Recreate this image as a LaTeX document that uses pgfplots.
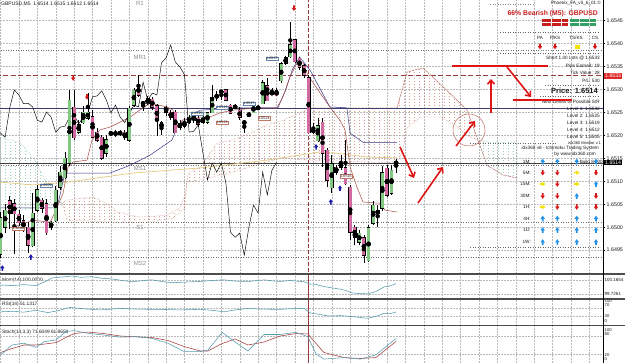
\documentclass[border=0pt]{standalone}
\usepackage{fontspec}
\setmainfont{Liberation Sans}
\usepackage{pgfplots}
\pgfplotsset{compat=1.18}
\usepackage{pgfplotstable}
\usetikzlibrary{patterns.meta,arrows.meta}
\newcommand\ft[1]{\fontsize{#1}{#1}\selectfont}
\definecolor{bull}{RGB}{130,200,130}
\definecolor{bear}{RGB}{210,105,160}
\definecolor{gridc}{RGB}{185,185,185}
\definecolor{tenkan}{RGB}{165,75,65}
\definecolor{kijun}{RGB}{55,55,135}
\definecolor{cloudbr}{RGB}{190,105,95}
\definecolor{cloudgr}{RGB}{100,180,160}
\definecolor{maline}{RGB}{228,200,125}
\definecolor{indteal}{RGB}{85,155,175}
\definecolor{stochd}{RGB}{165,60,60}
\definecolor{handred}{RGB}{225,20,20}
\definecolor{sigblue}{RGB}{35,145,230}
\definecolor{sigred}{RGB}{215,25,25}
\definecolor{sigyel}{RGB}{245,225,0}
\definecolor{chartblue}{RGB}{25,25,170}
\definecolor{pivotc}{RGB}{110,110,110}
\definecolor{pivtxt}{RGB}{140,140,140}
\definecolor{daysep}{RGB}{150,60,60}
\definecolor{boxblue}{RGB}{100,130,170}
\definecolor{boxbrown}{RGB}{195,120,100}
\definecolor{txtc}{RGB}{25,25,25}
\definecolor{sqred}{RGB}{200,30,30}
\definecolor{sqgreen}{RGB}{50,160,100}
\definecolor{navyline}{RGB}{60,60,110}
\definecolor{boxred}{RGB}{225,40,40}
\pgfdeclareplotmark{dnarr}{%
  \pgfpathmoveto{\pgfqpoint{-0.8pt}{2.8pt}}\pgfpathlineto{\pgfqpoint{0.8pt}{2.8pt}}%
  \pgfpathlineto{\pgfqpoint{0.8pt}{0.3pt}}\pgfpathlineto{\pgfqpoint{2.2pt}{0.3pt}}%
  \pgfpathlineto{\pgfqpoint{0pt}{-2.8pt}}\pgfpathlineto{\pgfqpoint{-2.2pt}{0.3pt}}%
  \pgfpathlineto{\pgfqpoint{-0.8pt}{0.3pt}}\pgfpathclose\pgfusepathqfill}
\pgfdeclareplotmark{uparr}{%
  \pgfpathmoveto{\pgfqpoint{-0.8pt}{-2.8pt}}\pgfpathlineto{\pgfqpoint{0.8pt}{-2.8pt}}%
  \pgfpathlineto{\pgfqpoint{0.8pt}{-0.3pt}}\pgfpathlineto{\pgfqpoint{2.2pt}{-0.3pt}}%
  \pgfpathlineto{\pgfqpoint{0pt}{2.8pt}}\pgfpathlineto{\pgfqpoint{-2.2pt}{-0.3pt}}%
  \pgfpathlineto{\pgfqpoint{-0.8pt}{-0.3pt}}\pgfpathclose\pgfusepathqfill}
\pgfdeclareplotmark{rtarr}{%
  \pgfpathmoveto{\pgfqpoint{-2.8pt}{-0.8pt}}\pgfpathlineto{\pgfqpoint{-2.8pt}{0.8pt}}%
  \pgfpathlineto{\pgfqpoint{-0.3pt}{0.8pt}}\pgfpathlineto{\pgfqpoint{-0.3pt}{2.2pt}}%
  \pgfpathlineto{\pgfqpoint{2.8pt}{0pt}}\pgfpathlineto{\pgfqpoint{-0.3pt}{-2.2pt}}%
  \pgfpathlineto{\pgfqpoint{-0.3pt}{-0.8pt}}\pgfpathclose\pgfusepathqfill}
\tikzdeclarepattern{
  name=mtdots,
  type=uncolored,
  bottom left={(0pt,0pt)},
  top right={(4.6pt,2.6pt)},
  tile size={(4.6pt,2.6pt)},
  code={\pgfpathrectangle{\pgfqpoint{0pt}{0pt}}{\pgfqpoint{0.75pt}{0.9pt}}\pgfusepath{fill}}
}
\tikzset{pbox/.style={draw=#1, fill=white, inner sep=0.5pt, font=\ft{3.6}, text=txtc, line width=0.3pt},
  rtxt/.style={anchor=east, font=\ft{4.7}, text=txtc, inner sep=0pt},
  hand/.style={handred, line width=1.6pt},
  harr/.style={handred, line width=1.6pt, -{Straight Barb[length=4pt,width=7pt]}}}

\pgfplotstableread{
i o h l c
0 1.64943 1.65033 1.64933 1.65022
1 1.65000 1.65052 1.64989 1.65037
2 1.65059 1.65070 1.64998 1.65031
3 1.65052 1.65063 1.64943 1.65031
4 1.65029 1.65037 1.65002 1.65011
5 1.65015 1.65026 1.64989 1.64998
6 1.65000 1.65011 1.64943 1.64961
7 1.64961 1.65074 1.64957 1.65031
8 1.65037 1.65092 1.65033 1.65081
9 1.65059 1.65066 1.65033 1.65042
10 1.65052 1.65063 1.64983 1.64989
11 1.65000 1.65015 1.64994 1.65011
12 1.65015 1.65090 1.65011 1.65081
13 1.65087 1.65135 1.65083 1.65120
14 1.65109 1.65164 1.65105 1.65151
15 1.65140 1.65299 1.65135 1.65277
16 1.65262 1.65299 1.65190 1.65196
17 1.65207 1.65233 1.65203 1.65223
18 1.65229 1.65264 1.65225 1.65251
19 1.65238 1.65292 1.65233 1.65251
20 1.65240 1.65255 1.65194 1.65196
21 1.65207 1.65216 1.65185 1.65190
22 1.65196 1.65201 1.65146 1.65151
23 1.65162 1.65201 1.65153 1.65192
24 1.65205 1.65212 1.65201 1.65203
25 1.65205 1.65212 1.65196 1.65204
26 1.65207 1.65212 1.65199 1.65205
27 1.65207 1.65212 1.65192 1.65196
28 1.65190 1.65264 1.65185 1.65260
29 1.65266 1.65305 1.65264 1.65299
30 1.65310 1.65332 1.65284 1.65288
31 1.65270 1.65277 1.65255 1.65269
32 1.65281 1.65286 1.65266 1.65270
33 1.65279 1.65284 1.65255 1.65262
34 1.65266 1.65270 1.65201 1.65233
35 1.65218 1.65233 1.65201 1.65229
36 1.65262 1.65266 1.65244 1.65251
37 1.65251 1.65255 1.65233 1.65240
38 1.65251 1.65255 1.65205 1.65207
39 1.65227 1.65233 1.65212 1.65218
40 1.65229 1.65238 1.65216 1.65220
41 1.65229 1.65244 1.65225 1.65240
42 1.65233 1.65251 1.65229 1.65244
43 1.65238 1.65244 1.65220 1.65225
44 1.65229 1.65244 1.65225 1.65240
45 1.65229 1.65251 1.65225 1.65249
46 1.65251 1.65310 1.65249 1.65284
47 1.65284 1.65297 1.65277 1.65286
48 1.65294 1.65299 1.65277 1.65297
49 1.65299 1.65301 1.65275 1.65277
50 1.65266 1.65270 1.65247 1.65249
51 1.65260 1.65268 1.65257 1.65266
52 1.65255 1.65262 1.65233 1.65240
53 1.65229 1.65233 1.65207 1.65228
54 1.65244 1.65251 1.65240 1.65247
55 1.65251 1.65270 1.65249 1.65266
56 1.65260 1.65266 1.65255 1.65262
57 1.65270 1.65321 1.65268 1.65316
58 1.65310 1.65325 1.65275 1.65277
59 1.65294 1.65303 1.65288 1.65292
60 1.65299 1.65303 1.65286 1.65288
61 1.65321 1.65360 1.65316 1.65358
62 1.65358 1.65373 1.65355 1.65369
63 1.65371 1.65447 1.65369 1.65397
64 1.65408 1.65412 1.65358 1.65360
65 1.65369 1.65371 1.65342 1.65349
66 1.65353 1.65358 1.65327 1.65332
67 1.65327 1.65332 1.65205 1.65207
68 1.65212 1.65227 1.65205 1.65209
69 1.65190 1.65238 1.65185 1.65223
70 1.65229 1.65238 1.65131 1.65162
71 1.65168 1.65172 1.65087 1.65103
72 1.65087 1.65157 1.65074 1.65140
73 1.65131 1.65135 1.65114 1.65120
74 1.65131 1.65157 1.65124 1.65140
75 1.65131 1.65190 1.65092 1.65096
76 1.65087 1.65092 1.64972 1.64989
77 1.65000 1.65005 1.64961 1.64978
78 1.64967 1.64994 1.64961 1.64987
79 1.64978 1.64983 1.64922 1.64939
80 1.64928 1.65005 1.64924 1.65000
81 1.65009 1.65059 1.65005 1.65048
82 1.65037 1.65048 1.65000 1.65031
83 1.65042 1.65135 1.65037 1.65120
84 1.65129 1.65135 1.65066 1.65070
85 1.65074 1.65135 1.65070 1.65124
86 1.65140 1.65150 1.65120 1.65141
}\candles

\begin{document}
\begin{tikzpicture}
\useasboundingbox (0,0) rectangle (625pt,363pt);
\fill[white] (0,0) rectangle (625pt,363pt);
% ================= MAIN PRICE PANEL =================
\begin{axis}[
  at={(0pt,89pt)}, anchor=south west,
  width=603pt, height=274pt, scale only axis,
  xmin=-0.11, xmax=130.98, ymin=1.64898, ymax=1.65495,
  axis line style={draw=none},
  xtick={0,4,...,128}, xticklabels={}, xtick style={draw=none},
  ytick={1.6495,1.6500,1.6505,1.6510,1.6515,1.6520,1.6525,1.6530,1.6535,1.6540,1.6545},
  ytick pos=right, yticklabel pos=right, tick align=outside, major tick length=2pt,
  ytick style={black, line width=0.4pt},
  yticklabel style={font=\ft{5.3}, text=txtc, inner xsep=1.5pt,
    /pgf/number format/fixed, /pgf/number format/fixed zerofill,
    /pgf/number format/precision=4, /pgf/number format/assume math mode=true},
  scaled y ticks=false,
  grid=major, major grid style={gridc, dash pattern=on 1.5pt off 1.5pt, line width=0.35pt},
]
% Ichimoku cloud
\addplot[draw=cloudgr, densely dotted, line width=0.4pt, pattern={mtdots}, pattern color=cloudgr]
 coordinates {(-0.3,1.65196) (4.2,1.65185) (7.5,1.65146) (9.7,1.65103) (11.8,1.65070) (13.4,1.65052)
   (8.6,1.65044) (4.2,1.65037) (-0.3,1.65031)} -- cycle;
\addplot[draw=cloudbr, densely dotted, line width=0.4pt, pattern={mtdots}, pattern color=cloudbr]
 coordinates {(13.4,1.65052) (14.5,1.65059) (20.1,1.65066) (23.8,1.65048) (25.3,1.65033) (30.3,1.65022)
   (36.2,1.65026) (39.0,1.65042) (40.1,1.65068) (40.8,1.65118) (43.4,1.65131) (47.1,1.65183)
   (50.5,1.65190) (54.2,1.65205) (57.9,1.65223) (61.4,1.65233) (65.1,1.65249) (67.3,1.65260)
   (86.2,1.65260) (88.4,1.65338) (91.8,1.65347) (94.0,1.65327) (99.2,1.65277) (101.4,1.65255)
   (103.8,1.65190) (101.6,1.65199) (98.8,1.65223) (95.5,1.65240) (91.2,1.65240) (88.4,1.65216)
   (87.5,1.65168) (86.2,1.65140) (65.1,1.65147) (61.4,1.65151) (57.9,1.65142) (50.5,1.65120)
   (43.4,1.65103) (40.5,1.65098) (40.1,1.65042) (37.5,1.65020) (32.5,1.65011) (25.3,1.65011)
   (14.5,1.65015)} -- cycle;
\addplot[draw=cloudgr, densely dotted, line width=0.4pt, pattern={mtdots}, pattern color=cloudgr]
 coordinates {(103.8,1.65190) (106.4,1.65185) (112.3,1.65185) (112.3,1.65107) (109.2,1.65114)
   (105.8,1.65135)} -- cycle;
\addplot[cloudbr, dash pattern=on 2pt off 1pt, line width=0.45pt]
 coordinates {(86.2,1.65260) (88.4,1.65338) (91.8,1.65347) (94.0,1.65327) (99.2,1.65277)
   (101.4,1.65255) (103.8,1.65190) (105.8,1.65135) (109.2,1.65114) (112.3,1.65107)};
% pivot levels (dotted)
\addplot[pivotc, dotted, line width=0.5pt] coordinates {(-1,1.65385) (132,1.65385)};
\addplot[pivotc, dotted, line width=0.5pt] coordinates {(-1,1.65135) (132,1.65135)};
\addplot[pivotc, dotted, line width=0.5pt] coordinates {(-1,1.65011) (132,1.65011)};
\addplot[pivotc, dotted, line width=0.5pt] coordinates {(-1,1.64935) (132,1.64935)};
% trade / price lines
\addplot[daysep, dash pattern=on 5pt off 2.5pt, line width=0.6pt] coordinates {(-1,1.6533) (132,1.6533)};
\addplot[navyline, line width=0.5pt] coordinates {(-1,1.6526) (132,1.6526)};
\addplot[black!75, line width=0.45pt] coordinates {(-1,1.6514) (132,1.6514)};
\addplot[daysep, dash pattern=on 4pt off 2pt, line width=0.6pt] coordinates {(67,1.6485) (67,1.6555)};
% moving average, Kijun, Tenkan, Chikou
\addplot[maline, line width=0.7pt] coordinates {(0,1.65098) (7.1,1.65092) (14.5,1.65098) (28.8,1.65118)
   (43.4,1.65129) (57.9,1.65146) (69.5,1.65164) (72.3,1.65162) (79.7,1.65153) (86.2,1.65151)};
\addplot[kijun, line width=0.5pt] coordinates {(0,1.65042) (12.3,1.65042) (14,1.65118) (23.8,1.65118)
   (28.2,1.65135) (32.5,1.65157) (37.3,1.65190) (38.6,1.65223) (41.2,1.65240) (43.4,1.65255)
   (52,1.65260) (60.3,1.65260) (62,1.65299) (63.4,1.65342) (65,1.65371) (67.3,1.65342)
   (71.6,1.65262) (75.3,1.65260) (76,1.65205) (78.8,1.65185) (86.2,1.65185)};
\addplot[tenkan, line width=0.5pt] coordinates {(2.1,1.64998) (4.2,1.65005) (7.1,1.65015) (10.8,1.65011)
   (11.8,1.65031) (13.6,1.65074) (14.7,1.65131) (15.8,1.65142) (18.8,1.65146) (19.9,1.65190)
   (21.6,1.65212) (23.8,1.65218) (28.2,1.65240) (29.7,1.65251) (32.5,1.65270) (36.2,1.65262)
   (37.5,1.65255) (38.4,1.65218) (39.5,1.65233) (41.8,1.65240) (45.5,1.65240) (47.7,1.65249)
   (50.5,1.65255) (55.8,1.65260) (60.1,1.65260) (61.4,1.65284) (62.9,1.65327) (64.5,1.65358)
   (65.8,1.65358) (66.8,1.65332) (69.5,1.65292) (71.6,1.65262) (73.8,1.65233) (74.9,1.65212)
   (76,1.65131) (77.5,1.65087) (78.8,1.65055) (82.5,1.65052) (83.6,1.65037) (86.2,1.65033)};
\addplot[black, line width=0.45pt] table[x expr=\thisrow{i}-26, y=c] {\candles};
% candles: wicks
\addplot[only marks, mark=none, error bars/.cd, y dir=both, y explicit, error mark=none,
   error bar style={black, line width=0.45pt}]
   table[x=i, y expr={(\thisrow{h}+\thisrow{l})/2}, y error expr={(\thisrow{h}-\thisrow{l})/2}] {\candles};
% candles: body outline
\addplot[only marks, mark=none, error bars/.cd, y dir=both, y explicit, error mark=none,
   error bar style={black, line width=3.9pt}]
   table[x=i, y expr={(\thisrow{o}+\thisrow{c})/2}, y error expr={abs(\thisrow{c}-\thisrow{o})/2+0.000012}] {\candles};
% candles: bullish fill
\addplot[only marks, mark=none, error bars/.cd, y dir=both, y explicit, error mark=none,
   error bar style={bull, line width=2.9pt}]
   table[x=i, y expr={(\thisrow{o}+\thisrow{c})/2}, y error expr={max(\thisrow{c}-\thisrow{o},0)/2}] {\candles};
% candles: bearish fill
\addplot[only marks, mark=none, error bars/.cd, y dir=both, y explicit, error mark=none,
   error bar style={bear, line width=2.9pt}]
   table[x=i, y expr={(\thisrow{o}+\thisrow{c})/2}, y error expr={max(\thisrow{o}-\thisrow{c},0)/2}] {\candles};
% signal arrows
\addplot[only marks, mark=dnarr, sigred] coordinates {(15.8,1.65325) (18.8,1.65284) (63.8,1.65477)};
\addplot[only marks, mark=uparr, chartblue] coordinates {(6.6,1.64935) (68.6,1.65175) (71.8,1.65055) (73.8,1.65085) (0.4,1.64911)};
\end{axis}

% ================= OVERLAY (pixel positions of texts) =================
\begin{axis}[
  at={(0pt,89pt)}, anchor=south west,
  width=603pt, height=274pt, scale only axis,
  xmin=0, xmax=603, ymin=0, ymax=274, y dir=reverse, hide axis, clip=false]
\node[anchor=west, font=\ft{5}, text=txtc, inner sep=0pt] at (1,4) {GBPUSD,M5\ \ 1.6514 1.6515 1.6512 1.6514};
\node[font=\ft{6}, text=pivtxt] at (140,3) {R1};
\node[font=\ft{6}, text=pivtxt] at (140,57.5) {MR1};
\node[font=\ft{6}, text=pivtxt] at (140,168.5) {MS1};
\node[font=\ft{6}, text=pivtxt] at (140,227) {S1};
\node[font=\ft{6}, text=pivtxt] at (140,263.5) {MS2};
% small price labels
\node[pbox=boxblue] at (272,58.5) {1.6537};
\node[pbox=boxblue] at (249,103.5) {1.6527};
\node[pbox=boxblue] at (222,107.5) {1.6526};
\node[pbox=boxblue] at (197,113.5) {1.6525};
\node[pbox=boxbrown] at (222,122.5) {1.6523};
\node[pbox=boxbrown] at (264,118) {1.6524};
\node[pbox=boxbrown] at (346,176) {1.6516};
\node[pbox=boxblue] at (46,185.5) {1.6509};
\node[pbox=boxbrown] at (18.5,228.5) {1.6500};
% info panel
\draw[gray, dotted, line width=0.5pt] (490,4) -- (534,4);
\node[rtxt, font=\ft{4.6}] at (601,3.5) {Phoenix\_FA\_v5\_6\_01 ©};
\node[rtxt, font=\bfseries\ft{6.8}, text=sqred] at (598,13.5) {66\% Bearish (M5): GBPUSD};
\addplot[only marks, mark=square*, mark size=1.05pt, sqred] coordinates {(543,20) (546.3,20) (549.6,20) (552.9,20) (556.2,20) (559.5,20) (562.8,20) (566.1,20)
  (543,24.3) (546.3,24.3) (549.6,24.3) (552.9,24.3) (556.2,24.3) (559.5,24.3) (562.8,24.3) (566.1,24.3)};
\addplot[only marks, mark=square*, mark size=1.05pt, sqgreen] coordinates {(571,20) (574.3,20) (577.6,20) (580.9,20) (584.2,20) (587.5,20) (590.8,20) (594.1,20)
  (571,24.3) (574.3,24.3) (577.6,24.3) (580.9,24.3) (584.2,24.3) (587.5,24.3) (590.8,24.3) (594.1,24.3)};
\draw[gray!80!black, dotted, line width=0.5pt] (500,32) -- (600,32);
\node[font=\ft{4.6}, text=txtc, inner sep=0pt] at (540,38) {PA};
\node[font=\ft{4.6}, text=txtc, inner sep=0pt] at (555,38) {P/KS};
\node[font=\ft{4.6}, text=txtc, inner sep=0pt] at (576,38) {TS/KS};
\node[font=\ft{4.6}, text=txtc, inner sep=0pt] at (595,38) {CS};
\addplot[only marks, mark=dnarr, sigred] coordinates {(540,46.5) (555,46.5) (595,46.5)};
\addplot[only marks, mark=square*, mark size=1.7pt, sigyel] coordinates {(577,46.5)};
\draw[gray!80!black, dotted, line width=0.5pt] (500,53) -- (600,53);
\node[rtxt] at (600,58.5) {Short 1.00 Lots @ 1.6533};
\node[rtxt] at (600,66) {Pips Earned: 19};
\node[rtxt] at (600,73) {Tick Value: 28};
\node[rtxt] at (600,80.5) {P/L: 530};
\draw[gray!80!black, dotted, line width=0.5pt] (545,85) -- (600,85);
\node[rtxt, font=\bfseries\ft{7.5}] at (598,90.5) {Price: 1.6514};
\draw[gray!80!black, dotted, line width=0.5pt] (540,96) -- (600,96);
\node[rtxt] at (600,101.5) {Next Levels of Possible S/R};
\node[rtxt] at (600,108.5) {Level 1: 1.6532};
\node[rtxt] at (600,115.5) {Level 2: 1.6525};
\node[rtxt] at (600,122.5) {Level 3: 1.6519};
\node[rtxt] at (600,130) {Level 4: 1.6512};
\node[rtxt] at (600,137) {Level 5: 1.6505};
\draw[gray!80!black, dotted, line width=0.5pt] (470,143) -- (556,143);
\node[rtxt, font=\ft{4}] at (601,143) {idx360 Monitor v.1};
\node[rtxt] at (599,148) {idx360 v8 - Ichimoku Trading System};
\node[rtxt] at (596,154) {by www.idx360.com};
% signal matrix
\addplot[only marks, mark=uparr, sigblue] coordinates {(542.7,161.5) (557.3,161.5) (576.7,161.5) (596,161.5)
  (596,184) (576.7,196)
  (542.7,218.5) (557.3,218.5) (576.7,218.5) (596,218.5)
  (542.7,230) (557.3,230) (576.7,230) (596,230)
  (542.7,242) (557.3,242) (576.7,242) (596,242)};
\addplot[only marks, mark=dnarr, sigred] coordinates {(542.7,172.7) (557.3,172.7) (596,172.7)
  (557.3,184) (542.7,196) (557.3,196) (596,196) (557.3,207) (576.7,207) (596,207)};
\addplot[only marks, mark=rtarr, sigyel] coordinates {(576.7,172.7) (542.7,184) (576.7,184) (542.7,207)};
\node[rtxt, font=\ft{4.6}] at (603,162) {Build 8.300};
\node[rtxt] at (531,162) {1M:};
\node[rtxt] at (531,172.7) {5M:};
\node[rtxt] at (531,184) {15M:};
\node[rtxt] at (531,196) {30M:};
\node[rtxt] at (531,207) {1H:};
\node[rtxt] at (531,218.5) {4H:};
\node[rtxt] at (531,230) {1D:};
\node[rtxt] at (531,242) {1W:};
\draw[gray!80!black, dotted, line width=0.5pt] (470,247) -- (600,247);
% hand drawn annotations
\draw[hand] (452,66) -- (548,66);
\draw[harr] (507,67) -- (531,97);
\draw[hand] (513,100) -- (572,100);
\draw[harr] (491,113) -- (491,79);
\draw[harr] (400,147) -- (414,178);
\draw[harr] (418,203) -- (443,167);
\draw[harr] (456,146) -- (475,121);
\draw[cloudbr, line width=0.5pt] (469,130) circle[radius=16pt];
% right scale boxes
\node[fill=boxred, text=white, font=\ft{5.2}, inner xsep=1pt, inner ysep=0.9pt, anchor=west] at (604,76) {1.6533};
\node[fill=black, text=white, font=\ft{5.2}, inner xsep=1pt, inner ysep=0.9pt, anchor=west] at (604,162.6) {1.6514};
% indicator labels
\node[anchor=west, font=\ft{4.8}, text=txtc, inner sep=0pt] at (2,280.5) {Mom(14) 100.0000};
\node[anchor=west, font=\ft{4.8}, text=txtc, inner sep=0pt] at (2,304.5) {RSI(14) 51.1317};
\node[anchor=west, font=\ft{4.8}, text=txtc, inner sep=0pt] at (2,332) {Stoch(14,3,3) 71.6049 61.8658};
\node[anchor=west, font=\ft{4.5}, text=txtc, inner sep=0pt] at (604.5,280) {100.1654};
\node[anchor=west, font=\ft{4.5}, text=txtc, inner sep=0pt] at (604.5,294) {99.7261};
\node[anchor=west, font=\ft{4.2}, text=txtc, inner sep=0pt] at (604.5,301.5) {100};
\node[anchor=west, font=\ft{4.2}, text=txtc, inner sep=0pt] at (604.5,305.5) {70};
\node[anchor=west, font=\ft{4.2}, text=txtc, inner sep=0pt] at (604.5,316.5) {30};
\node[anchor=west, font=\ft{4.2}, text=txtc, inner sep=0pt] at (604.5,321) {0};
\node[anchor=west, font=\ft{4.2}, text=txtc, inner sep=0pt] at (604.5,330) {100};
\node[anchor=west, font=\ft{4.2}, text=txtc, inner sep=0pt] at (604.5,334) {80};
\node[anchor=west, font=\ft{4.2}, text=txtc, inner sep=0pt] at (604.5,355.5) {20};
\node[anchor=west, font=\ft{4.2}, text=txtc, inner sep=0pt] at (604.5,359.5) {0};
\end{axis}

% ================= MOMENTUM =================
\begin{axis}[
  at={(0pt,64pt)}, anchor=south west, width=603pt, height=25pt, scale only axis,
  xmin=-0.11, xmax=130.98, ymin=99.569, ymax=100.354,
  axis line style={draw=none},
  xtick={0,4,...,128}, xticklabels={}, ytick={99.7261,100.1654}, yticklabels={},
  tick style={draw=none},
  grid=major, major grid style={gridc, dash pattern=on 1.5pt off 1.5pt, line width=0.35pt}]
\addplot[daysep, line width=0.5pt] coordinates {(67,99) (67,101)};
\addplot[indteal, line width=0.55pt] coordinates {(0,100.01) (2.5,99.99) (5,100.02) (7.7,99.99) (9.5,100.10)
  (11.2,100.23) (13.5,100.26) (15.5,100.29) (17.5,100.25) (19.9,100.27) (22,100.22) (24.2,100.20)
  (26.5,100.15) (28.6,100.11) (30.5,100.14) (32.9,100.17) (35,100.12) (37.3,100.08) (40,100.10)
  (43.4,100.12) (46,100.15) (48.6,100.17) (51,100.13) (53.8,100.12) (56,100.15) (57.3,100.17)
  (59,100.14) (60.8,100.12) (63,100.15) (66,100.11) (67.3,100.04) (68.5,100.03) (70.3,99.96)
  (72,99.92) (73.8,99.88) (75,99.84) (76.4,99.76) (78,99.74) (79.9,99.73) (81.6,99.80)
  (83.4,99.95) (84.5,99.97) (86,100.05)};
\end{axis}

% ================= RSI =================
\begin{axis}[
  at={(0pt,37.3pt)}, anchor=south west, width=603pt, height=26.7pt, scale only axis,
  xmin=-0.11, xmax=130.98, ymin=-21, ymax=119.5,
  axis line style={draw=none},
  xtick={0,4,...,128}, xticklabels={}, ytick={30,70}, yticklabels={},
  tick style={draw=none},
  grid=major, major grid style={gridc, dash pattern=on 1.5pt off 1.5pt, line width=0.35pt}]
\addplot[daysep, line width=0.5pt] coordinates {(67,-30) (67,130)};
\addplot[indteal, line width=0.55pt] coordinates {(0,52) (3,55) (5,50) (7.7,60) (10.3,48) (12.5,58)
  (15.1,75) (18,68) (21.6,62) (24,66) (26,70) (30,66) (34.7,65) (39,62) (43.4,65) (46,60)
  (48.6,52) (51,62) (53.8,70) (57,66) (60.8,65) (63,68) (66,70) (67.3,46) (69,40) (71.2,30)
  (74,32) (76.4,27) (79.9,18) (81.6,28) (83.4,44) (84.7,42) (86,51.1)};
\end{axis}

% ================= STOCHASTIC =================
\begin{axis}[
  at={(0pt,0pt)}, anchor=south west, width=603pt, height=37.3pt, scale only axis,
  xmin=-0.11, xmax=130.98, ymin=-10, ymax=114.3,
  axis line style={draw=none},
  xtick={0,4,...,128}, xticklabels={}, ytick={20,80}, yticklabels={},
  tick style={draw=none},
  grid=major, major grid style={gridc, dash pattern=on 1.5pt off 1.5pt, line width=0.35pt}]
\addplot[daysep, line width=0.5pt] coordinates {(67,-20) (67,130)};
\addplot[stochd, line width=0.55pt] coordinates {(0,25) (2.5,38) (5.1,50) (7.7,50) (9.5,53) (12.1,58)
  (14.2,75) (16,88) (19,93) (22.5,88) (26,80) (29.5,77) (32.9,75) (36.4,65) (39.9,45) (43.4,30)
  (45.1,30) (48.2,55) (51,70) (53.8,50) (57.3,60) (60.8,80) (64.2,88) (66.8,87) (68.6,55)
  (70.3,25) (74.7,8) (78.2,5) (81.6,8) (86,61.9)};
\addplot[indteal, line width=0.55pt] coordinates {(0,17) (2.5,50) (5.1,56) (7.7,42) (9.5,61) (12.1,67)
  (14.2,95) (16,98) (19,89) (22.5,83) (26,76) (29.5,78) (32.9,72) (36.4,56) (39.9,28) (43.4,28)
  (45.1,33) (48.2,92) (51,60) (53.8,30) (57.3,85) (60.8,85) (64.2,92) (66.8,78) (68.6,20)
  (70.3,3) (74.7,8) (78.2,3) (81.6,17) (86,71.6)};
\end{axis}

% panel frame lines
\draw[black!70, line width=1.5pt] (0,89pt) -- (625pt,89pt);
\draw[black!70, line width=1.5pt] (0,64pt) -- (625pt,64pt);
\draw[black!70, line width=1.5pt] (0,37.3pt) -- (625pt,37.3pt);
\draw[black, line width=0.5pt] (603pt,0) -- (603pt,363pt);
\end{tikzpicture}
\end{document}
